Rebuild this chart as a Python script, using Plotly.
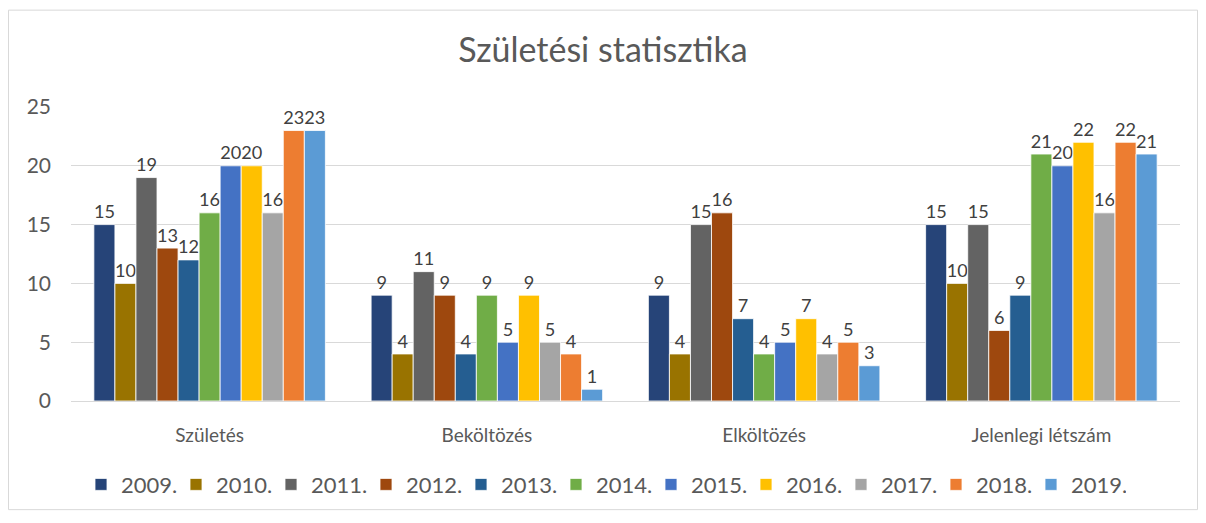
import plotly.graph_objects as go

categories = ["Születés", "Beköltözés", "Elköltözés", "Jelenlegi létszám"]
years = ["2009.", "2010.", "2011.", "2012.", "2013.", "2014.", "2015.", "2016.", "2017.", "2018.", "2019."]
v2009 = [15, 9, 9, 15]
v2010 = [10, 4, 4, 10]
v2011 = [19, 11, 15, 15]
v2012 = [13, 9, 16, 6]
v2013 = [12, 4, 7, 9]
v2014 = [16, 9, 4, 21]
v2015 = [20, 5, 5, 20]
v2016 = [20, 9, 7, 22]
v2017 = [16, 5, 4, 16]
v2018 = [23, 4, 5, 22]
v2019 = [23, 1, 3, 21]
series = [v2009, v2010, v2011, v2012, v2013, v2014, v2015, v2016, v2017, v2018, v2019]
colors = ["#264478", "#997300", "#636363", "#9E480E", "#255E91", "#70AD47",
          "#4472C4", "#FFC000", "#A5A5A5", "#ED7D31", "#5B9BD5"]

FONT = "Lato, Open Sans, sans-serif"

fig = go.Figure()
for name, vals, c in zip(years, series, colors):
    fig.add_trace(go.Bar(
        x=categories, y=vals, name=name, marker=dict(color=c, line=dict(color="white", width=0.8)),
        text=vals, textposition="outside", cliponaxis=False,
        textfont=dict(size=21, color="#404040", family=FONT),
    ))

# figure sits at an 8px page offset (body margin)
W, H = 1190, 509
L, R, T, B = 63, 18, 99, 111
pw, ph = W - L - R, H - T - B

fig.update_layout(
    width=W, height=H,
    margin=dict(l=L, r=R, t=T, b=B),
    paper_bgcolor="white", plot_bgcolor="white",
    barmode="group", bargap=0.165, bargroupgap=0,
    title=dict(text="Születési statisztika", x=0.5, xanchor="center", y=1 - 42 / H, yanchor="middle",
               font=dict(size=34, color="#595959", family=FONT)),
    font=dict(family=FONT, color="#595959"),
    xaxis=dict(showgrid=False, showline=True, linecolor="#D9D9D9", linewidth=1, ticks="",
               tickfont=dict(size=19, color="#595959"), ticklabelstandoff=17),
    yaxis=dict(range=[0, 25], dtick=5, showgrid=True, gridcolor="#D9D9D9", gridwidth=1,
               zeroline=False, showline=False, tickfont=dict(size=21, color="#595959"),
               ticklabelstandoff=19),
    legend=dict(orientation="h", x=(81 - L - 8) / pw, xanchor="left", y=-(483 - (H - B)) / ph, yanchor="middle",
                font=dict(size=22, color="#595959"), traceorder="normal",
                entrywidth=50, entrywidthmode="pixels", itemwidth=30),
    uniformtext=dict(minsize=8, mode="show"),
    showlegend=True,
)

fig.add_shape(type="rect", xref="paper", yref="paper",
              x0=-(L - 0.5) / pw, x1=1 + (R - 0.5) / pw, y0=-(B - 0.5) / ph, y1=1 + (T - 0.5) / ph,
              line=dict(color="#D9D9D9", width=1), fillcolor="rgba(0,0,0,0)", layer="below")

fig.write_html("out.html")
